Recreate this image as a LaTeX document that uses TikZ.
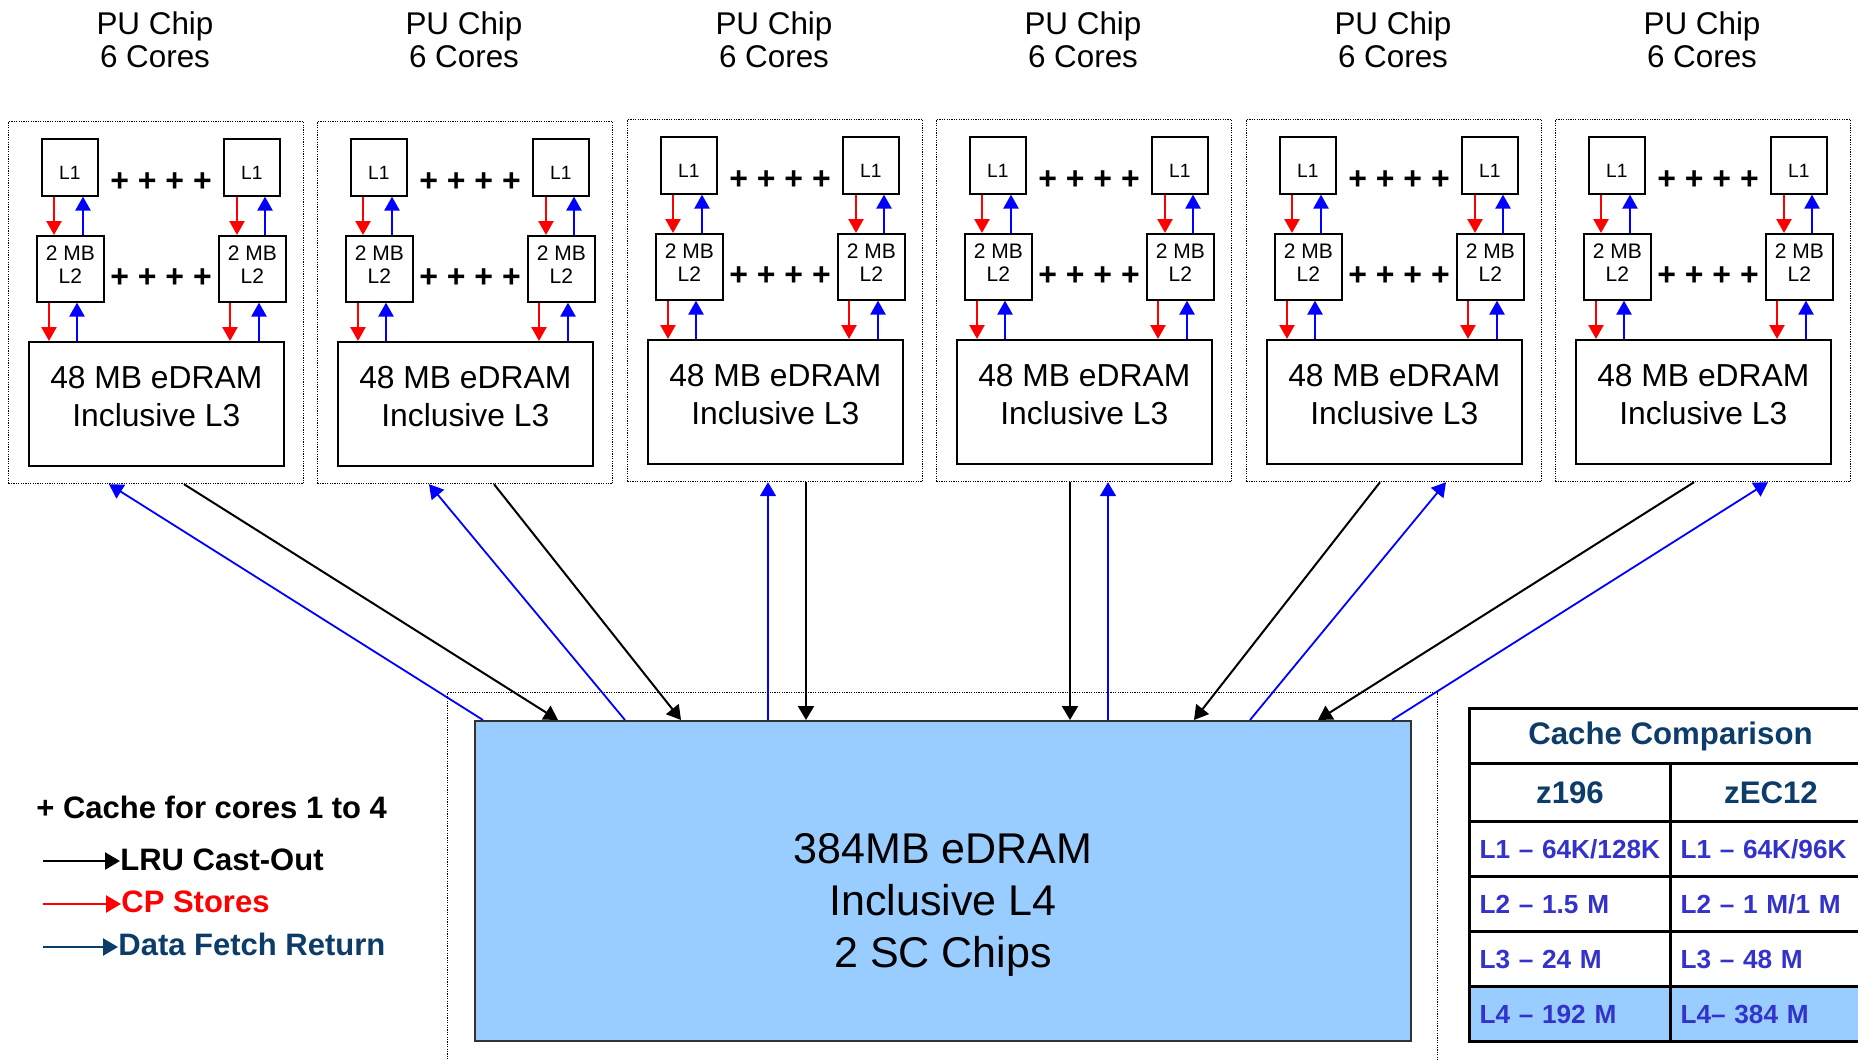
\documentclass[tikz,border=0pt]{standalone}
\usepackage{fontspec}
\setmainfont{Liberation Sans}
\usetikzlibrary{arrows.meta,calc}
\definecolor{ibmdark}{RGB}{12,60,106}
\definecolor{valblue}{RGB}{51,51,204}
\definecolor{lfill}{RGB}{153,204,255}
\definecolor{pblue}{RGB}{0,0,255}
\definecolor{pred}{RGB}{255,0,0}
\begin{document}
\begin{tikzpicture}[x=0.5pt,y=-0.5pt,
  dotbox/.style={draw, line width=0.6pt, dash pattern=on 0.6pt off 0.6pt, minimum width=147.5pt, minimum height=181pt, inner sep=0, anchor=north west},
  lonebox/.style={draw, line width=0.8pt, minimum width=28pt, minimum height=28.5pt, inner sep=0, anchor=north west, text height=12.5pt, text depth=0pt, font=\fontsize{9.6}{11}\selectfont},
  ltwobox/.style={draw, line width=0.8pt, minimum width=33.5pt, minimum height=33pt, inner sep=0, anchor=north west, align=center, text depth=4pt, font=\fontsize{10.5}{11.5}\selectfont},
  lthreebox/.style={draw, line width=0.8pt, minimum width=127.5pt, minimum height=62pt, inner sep=0, anchor=north west, align=center, text depth=7pt, font=\fontsize{15.9}{19}\selectfont},
  plusrow/.style={font=\fontsize{16}{16}\selectfont\bfseries, inner sep=0},
  chiptitle/.style={align=center, inner sep=0, font=\fontsize{15.7}{16.5}\selectfont},
  redarr/.style={pred, line width=1.2pt, -{Triangle[length=7pt,width=7.5pt]}},
  bluearr/.style={pblue, line width=1.2pt, -{Triangle[length=7pt,width=7.5pt]}},
  bigblack/.style={black, line width=1pt, -{Triangle[length=7pt,width=8pt]}},
  bigblue/.style={pblue, line width=0.9pt, -{Triangle[length=7pt,width=8pt]}},
  legtext/.style={inner sep=0, anchor=base west, font=\fontsize{15.5}{16}\selectfont\bfseries},
  legarr/.style={line width=1.2pt, -{Triangle[length=7.5pt,width=8.5pt]}},
  tcell/.style={draw, line width=1.5pt, anchor=north west, inner sep=0, font=\fontsize{15.6}{16}\selectfont\bfseries, text=ibmdark},
  vcell/.style={draw, line width=1.5pt, anchor=north west, minimum height=27.5pt, text width=90.5pt, inner xsep=5pt, inner ysep=0, align=left, font=\fontsize{13.1}{14}\selectfont\bfseries, text=valblue}
]
\useasboundingbox (0,0) rectangle (1858,1060);
\clip (0,0) rectangle (1858,1060);
\fill[white] (0,0) rectangle (1858,1060);

% chips
\foreach \i/\cx/\cy in {1/8/121, 2/317/121, 3/627/119, 4/936/119, 5/1246/119, 6/1555/119}{
  \node[chiptitle] (t\i) at (\cx+147,40) {PU Chip\\6 Cores};
  \node[dotbox] (ch\i) at (\cx,\cy) {};
  \node[lonebox] (a\i) at (\cx+33,\cy+17) {L1};
  \node[lonebox] (b\i) at (\cx+215,\cy+17) {L1};
  \node[ltwobox] (c\i) at (\cx+28,\cy+114) {2 MB\\L2};
  \node[ltwobox] (d\i) at (\cx+210,\cy+114) {2 MB\\L2};
  \node[lthreebox] (e\i) at (\cx+20,\cy+220) {48 MB eDRAM\\Inclusive L3};
  \node[plusrow] (p\i) at (\cx+153,\cy+61) {+ + + +};
  \node[plusrow] (q\i) at (\cx+153,\cy+157) {+ + + +};
  \draw[redarr] ($(a\i.south west)+(13,0)$) -- ($(c\i.north west)+(18,0)$);
  \draw[bluearr] ($(c\i.north west)+(47,0)$) -- ($(a\i.south west)+(42,0)$);
  \draw[redarr] ($(b\i.south west)+(14,0)$) -- ($(d\i.north west)+(19,0)$);
  \draw[bluearr] ($(d\i.north west)+(47,0)$) -- ($(b\i.south west)+(42,0)$);
  \draw[redarr] ($(c\i.south west)+(13,0)$) -- ($(e\i.north west)+(21,0)$);
  \draw[bluearr] ($(e\i.north west)+(49,0)$) -- ($(c\i.south west)+(41,0)$);
  \draw[redarr] ($(d\i.south west)+(12,0)$) -- ($(e\i.north west)+(202,0)$);
  \draw[bluearr] ($(e\i.north west)+(231,0)$) -- ($(d\i.south west)+(41,0)$);
}

% L4
\node[draw, line width=0.6pt, dash pattern=on 0.6pt off 0.6pt, anchor=north west, minimum width=495pt, minimum height=200pt, inner sep=0] (L4frame) at (447,692) {};
\node[draw=black!80, line width=0.8pt, fill=lfill, anchor=north west, minimum width=468pt, minimum height=160pt, inner sep=0] (L4) at (474,720) {};
\node[align=center, inner sep=0, font=\fontsize{21.5}{25.8}\selectfont] (L4txt) at (943,905) {384MB eDRAM\\Inclusive L4\\2 SC Chips};

\foreach \i/\bu/\bk/\lbu/\lbk in {1/101/176/9/84, 2/112/177/151/207, 3/141/179/294/332, 4/172/134/634/596, 5/200/134/776/720, 6/213/139/918/844}{
  \draw[bigblue] ($(L4.north west)+(\lbu,0)$) -- ($(ch\i.south west)+(\bu,0)$);
  \draw[bigblack] ($(ch\i.south west)+(\bk,0)$) -- ($(L4.north west)+(\lbk,0)$);
}

% legend
\node[legtext] (lg0) at (36,818) {+ Cache for cores 1 to 4};
\node[legtext] (lg1) at (120,870) {LRU Cast-Out};
\node[legtext, text=pred] (lg2) at (121,912) {CP Stores};
\node[legtext, text=ibmdark] (lg3) at (118,955) {Data Fetch Return};
\coordinate (s1) at (43,861);
\coordinate (s2) at (43,904);
\coordinate (s3) at (43,947);
\draw[legarr, black] (s1) -- (s1 -| lg1.west);
\draw[legarr, pred] (s2) -- (s2 -| lg2.west);
\draw[legarr, ibmdark] (s3) -- (s3 -| lg3.west);

% table
\node[tcell, minimum width=201pt, minimum height=27.5pt] (th) at (1468,707) {Cache Comparison};
\node[tcell, minimum width=100.5pt, minimum height=29pt] (h1) at (1468,762) {z196};
\node[tcell, minimum width=100.5pt, minimum height=29pt] (h2) at (1669,762) {zEC12};
\node[vcell] (r1a) at (1468,820) {L1 – 64K/128K};
\node[vcell] (r1b) at (1669,820) {L1 – 64K/96K};
\node[vcell] (r2a) at (1468,875) {L2 – 1.5 M};
\node[vcell] (r2b) at (1669,875) {L2 – 1 M/1 M};
\node[vcell] (r3a) at (1468,930) {L3 – 24 M};
\node[vcell] (r3b) at (1669,930) {L3 – 48 M};
\node[vcell, fill=lfill] (r4a) at (1468,985) {L4 – 192 M};
\node[vcell, fill=lfill] (r4b) at (1669,985) {L4– 384 M};
\end{tikzpicture}
\end{document}
